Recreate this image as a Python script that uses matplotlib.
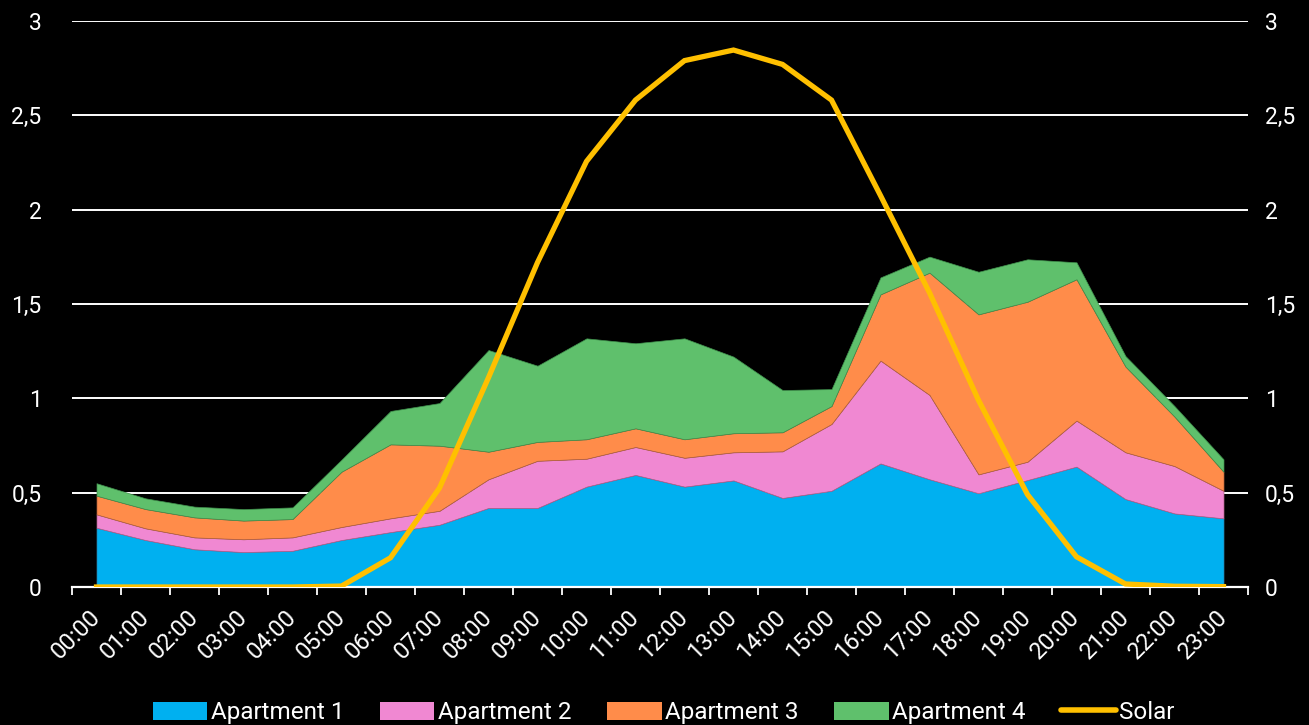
import matplotlib
matplotlib.use("Agg")
import matplotlib.pyplot as plt
import numpy as np
from matplotlib.patches import Patch
from matplotlib.lines import Line2D

hours = [f"{h:02d}:00" for h in range(24)]
apt1 = [0.314, 0.249, 0.200, 0.185, 0.192, 0.249, 0.291, 0.330, 0.419, 0.419, 0.532, 0.594,
        0.532, 0.565, 0.472, 0.510, 0.655, 0.571, 0.497, 0.567, 0.638, 0.466, 0.390, 0.364]
apt2 = [0.071, 0.062, 0.063, 0.068, 0.071, 0.069, 0.073, 0.074, 0.152, 0.250, 0.148, 0.148,
        0.153, 0.149, 0.247, 0.354, 0.545, 0.447, 0.100, 0.097, 0.244, 0.248, 0.251, 0.146]
apt3 = [0.099, 0.102, 0.106, 0.099, 0.097, 0.293, 0.392, 0.345, 0.146, 0.100, 0.103, 0.099,
        0.098, 0.101, 0.101, 0.095, 0.351, 0.648, 0.848, 0.848, 0.749, 0.454, 0.262, 0.101]
apt4 = [0.066, 0.057, 0.057, 0.061, 0.062, 0.064, 0.177, 0.226, 0.539, 0.404, 0.535, 0.451,
        0.535, 0.406, 0.224, 0.090, 0.090, 0.085, 0.226, 0.225, 0.090, 0.056, 0.056, 0.066]
solar = [0, 0, 0, 0, 0, 0.005, 0.155, 0.525, 1.11, 1.72, 2.256, 2.581,
         2.79, 2.846, 2.77, 2.581, 2.075, 1.56, 0.99, 0.49, 0.16, 0.016, 0.004, 0.002]
y_ticks = [0, 0.5, 1, 1.5, 2, 2.5, 3]
y_labels = ["0", "0,5", "1", "1,5", "2", "2,5", "3"]

series_names = ["Apartment 1", "Apartment 2", "Apartment 3", "Apartment 4"]
colors = ["#00B0F0", "#F088D2", "#FF8C4A", "#5FC06C"]
edges = ["#2a7fa8", "#b0608a", "#b0603a", "#3f8f4c"]
solar_color = "#FFC000"

plt.rcParams['font.family'] = ['Roboto', 'DejaVu Sans']

fig = plt.figure(figsize=(13.09, 7.25), dpi=100, facecolor="black")
ax = fig.add_axes([72 / 1309, 1 - 587 / 725, (1248 - 72) / 1309, (587 - 21) / 725])
ax.set_facecolor("black")

x = np.arange(len(hours))
base = np.zeros(len(hours))
for vals, c, e in zip([apt1, apt2, apt3, apt4], colors, edges):
    top = base + np.array(vals)
    ax.fill_between(x, base, top, facecolor=c, edgecolor=e, linewidth=0.5, zorder=2)
    base = top

ax.set_xlim(-0.5, 23.5)
ax.set_ylim(0, 3)
ax.set_yticks(y_ticks)
ax.set_yticklabels(y_labels)
ax.tick_params(axis='y', length=0, pad=22, labelsize=16.5, colors='white')
ax.grid(axis='y', color='white', linewidth=1.4, zorder=1)
ax.set_axisbelow(True)

ax.set_xticks(np.arange(-0.5, 24, 1))
ax.set_xticklabels([])
ax.set_xticks(x, minor=True)
ax.set_xticklabels(hours, minor=True, rotation=45, ha='right', va='center',
                   rotation_mode='anchor', fontsize=17, color='white')
ax.tick_params(axis='x', which='major', length=6, width=1.3, color='white', direction='out')
ax.tick_params(axis='x', which='minor', length=0, pad=19)

for s in ['top', 'left', 'right']:
    ax.spines[s].set_visible(False)
ax.spines['bottom'].set_color('white')
ax.spines['bottom'].set_linewidth(1.6)

ax2 = ax.twinx()
ax2.plot(x, solar, color=solar_color, linewidth=3.8, solid_joinstyle='miter', zorder=5)
ax2.set_ylim(0, 3)
ax2.set_yticks(y_ticks)
ax2.set_yticklabels(y_labels)
ax2.tick_params(axis='y', length=0, pad=12, labelsize=16.5, colors='white')
for s in ['top', 'left', 'right', 'bottom']:
    ax2.spines[s].set_visible(False)

handles = [Patch(facecolor=c, edgecolor='none') for c in colors]
handles.append(Line2D([0], [0], color=solar_color, linewidth=4, solid_capstyle='round'))
leg = fig.legend(handles, series_names + ["Solar"], loc='center', bbox_to_anchor=(0.507, 0.017),
                 ncol=5, frameon=False, fontsize=17.5, labelcolor='white',
                 handlelength=2.25, handleheight=0.75, handletextpad=0.15, columnspacing=1.45)

fig.savefig("out.png", dpi=100, facecolor="black")
